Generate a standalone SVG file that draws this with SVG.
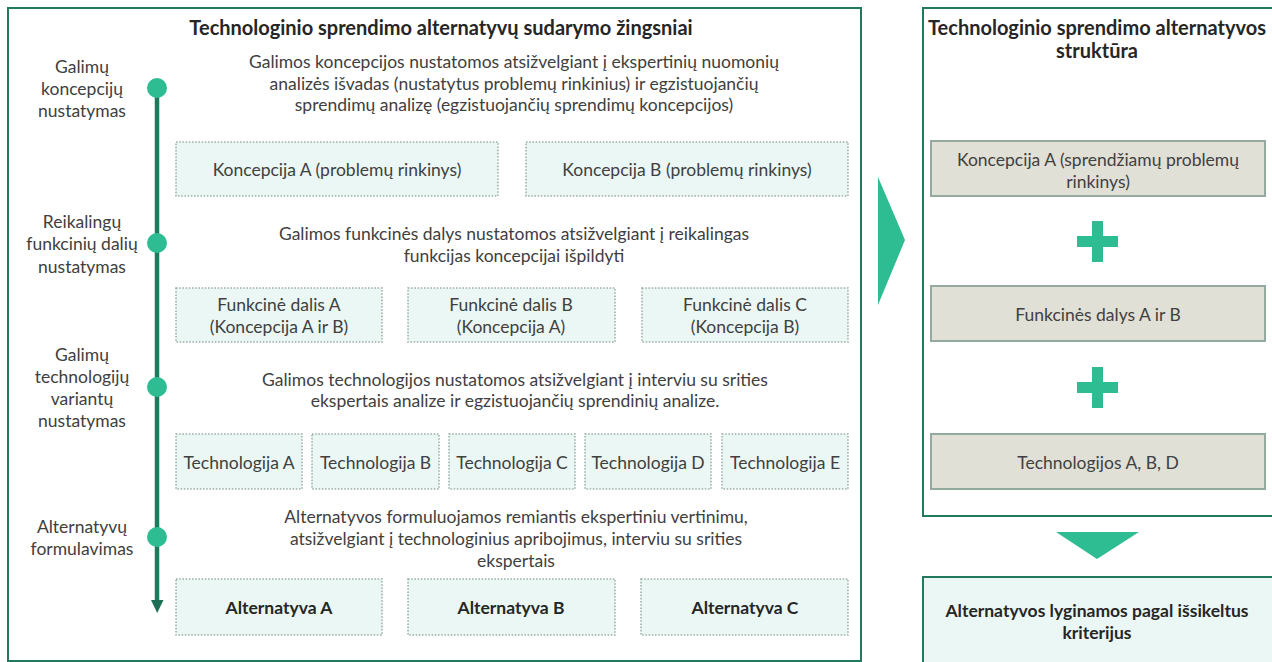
<svg xmlns="http://www.w3.org/2000/svg" width="1272" height="662" viewBox="0 0 1272 662">
<defs>
<style>
text{font-family:Lato,"Open Sans","Liberation Sans",sans-serif;fill:#404040;font-size:17.5px;text-anchor:middle;dominant-baseline:central}
.b{font-weight:bold;fill:#262626}
.t{font-size:20px}
.panel{fill:#fff;stroke:#217a5e;stroke-width:2}
.dot{fill:#ebf7f4;stroke:#9db3a8;stroke-width:1.6;stroke-dasharray:1.6 1.6}
.gray{fill:#e1e0d6;stroke:#95aa9e;stroke-width:2}
.teal{fill:#2ebd93}
.step{fill:#2ebd93}
</style>
</defs>
<rect width="1272" height="662" fill="#fff"/>

<g id="left-panel">
<rect class="panel" x="8" y="8" width="853" height="653"/>
<text class="b t" x="441" y="27">Technologinio sprendimo alternatyvų sudarymo žingsniai</text>
</g>

<g id="connectors">
<line x1="157" y1="88" x2="157" y2="604" stroke="#1e7a5c" stroke-width="4.5"/>
<path d="M151,600 L163.5,600 L157.2,613 Z" fill="#1e6f55"/>
<polygon class="teal" points="878,177 905,240 878,305"/>
<polygon class="teal" points="1056,532 1139,532 1097,559"/>
</g>

<g id="step1">
<circle class="step" cx="157" cy="88" r="10"/>
<text x="82" y="66">Galimų</text>
<text x="82" y="88">koncepcijų</text>
<text x="82" y="110">nustatymas</text>
<text x="514" y="61">Galimos koncepcijos nustatomos atsižvelgiant į ekspertinių nuomonių</text>
<text x="514" y="83">analizės išvadas (nustatytus problemų rinkinius) ir egzistuojančių</text>
<text x="514" y="104">sprendimų analizę (egzistuojančių sprendimų koncepcijos)</text>
</g>
<g id="koncepcija-a"><rect class="dot" x="176" y="142" width="322" height="54"/><text x="337" y="169">Koncepcija A (problemų rinkinys)</text></g>
<g id="koncepcija-b"><rect class="dot" x="526" y="142" width="322" height="54"/><text x="687" y="169">Koncepcija B (problemų rinkinys)</text></g>

<g id="step2">
<circle class="step" cx="157" cy="243" r="10"/>
<text x="82" y="221">Reikalingų</text>
<text x="82" y="243">funkcinių dalių</text>
<text x="82" y="266">nustatymas</text>
<text x="514" y="233">Galimos funkcinės dalys nustatomos atsižvelgiant į reikalingas</text>
<text x="514" y="255">funkcijas koncepcijai išpildyti</text>
</g>
<g id="funkcine-a"><rect class="dot" x="176" y="288" width="206" height="54"/><text x="279" y="304">Funkcinė dalis A</text><text x="279" y="326">(Koncepcija A ir B)</text></g>
<g id="funkcine-b"><rect class="dot" x="408" y="288" width="207" height="54"/><text x="511" y="304">Funkcinė dalis B</text><text x="511" y="326">(Koncepcija A)</text></g>
<g id="funkcine-c"><rect class="dot" x="642" y="288" width="206" height="54"/><text x="745" y="304">Funkcinė dalis C</text><text x="745" y="326">(Koncepcija B)</text></g>

<g id="step3">
<circle class="step" cx="157" cy="387" r="10"/>
<text x="82" y="354">Galimų</text>
<text x="82" y="376">technologijų</text>
<text x="82" y="398">variantų</text>
<text x="82" y="420">nustatymas</text>
<text x="515" y="379">Galimos technologijos nustatomos atsižvelgiant į interviu su srities</text>
<text x="515" y="400">ekspertais analize ir egzistuojančių sprendinių analize.</text>
</g>
<g id="tech-a"><rect class="dot" x="176" y="434" width="126" height="55"/><text x="239" y="462">Technologija A</text></g>
<g id="tech-b"><rect class="dot" x="312" y="434" width="127" height="55"/><text x="375.5" y="462">Technologija B</text></g>
<g id="tech-c"><rect class="dot" x="449" y="434" width="126" height="55"/><text x="512" y="462">Technologija C</text></g>
<g id="tech-d"><rect class="dot" x="585" y="434" width="126" height="55"/><text x="648" y="462">Technologija D</text></g>
<g id="tech-e"><rect class="dot" x="722" y="434" width="126" height="55"/><text x="785" y="462">Technologija E</text></g>

<g id="step4">
<circle class="step" cx="157" cy="537" r="10"/>
<text x="82" y="526">Alternatyvų</text>
<text x="82" y="548">formulavimas</text>
<text x="516" y="516">Alternatyvos formuluojamos remiantis ekspertiniu vertinimu,</text>
<text x="516" y="538">atsižvelgiant į technologinius apribojimus, interviu su srities</text>
<text x="516" y="560">ekspertais</text>
</g>
<g id="alt-a"><rect class="dot" x="176" y="579" width="206" height="56"/><text class="b" x="279" y="607">Alternatyva A</text></g>
<g id="alt-b"><rect class="dot" x="408" y="579" width="207" height="56"/><text class="b" x="511" y="607">Alternatyva B</text></g>
<g id="alt-c"><rect class="dot" x="641" y="579" width="207" height="56"/><text class="b" x="745" y="607">Alternatyva C</text></g>

<g id="right-panel">
<rect class="panel" x="923" y="8" width="360" height="508"/>
<text class="b t" x="1097" y="27">Technologinio sprendimo alternatyvos</text>
<text class="b t" x="1097" y="50">struktūra</text>
</g>
<g id="struct-koncepcija"><rect class="gray" x="931" y="141" width="334" height="55"/><text x="1098" y="159">Koncepcija A (sprendžiamų problemų</text><text x="1098" y="181">rinkinys)</text></g>
<g id="plus-1"><path class="teal" d="M1092,221 h11 v15 h15 v11 h-15 v15 h-11 v-15 h-15 v-11 h15 Z"/></g>
<g id="struct-funkcines"><rect class="gray" x="931" y="286" width="334" height="55"/><text x="1098" y="314">Funkcinės dalys A ir B</text></g>
<g id="plus-2"><path class="teal" d="M1092,367 h11 v15 h15 v11 h-15 v15 h-11 v-15 h-15 v-11 h15 Z"/></g>
<g id="struct-tech"><rect class="gray" x="931" y="434" width="334" height="55"/><text x="1098" y="462">Technologijos A, B, D</text></g>

<g id="compare">
<rect x="923" y="577" width="360" height="100" fill="#ebf7f4" stroke="#217a5e" stroke-width="2"/>
<text class="b" x="1097" y="610">Alternatyvos lyginamos pagal išsikeltus</text>
<text class="b" x="1097" y="632">kriterijus</text>
</g>
</svg>
